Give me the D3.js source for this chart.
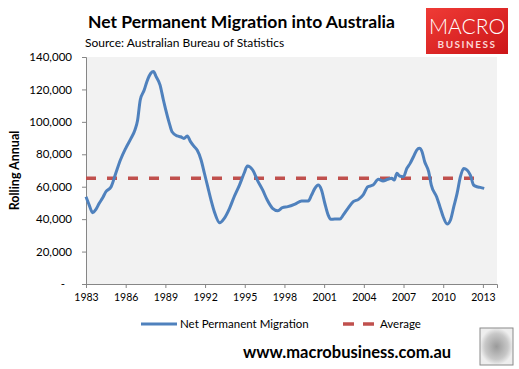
<!DOCTYPE html>
<html>
<head>
<meta charset="utf-8">
<script src="https://cdn.jsdelivr.net/npm/d3@7"></script>
<style>
  html, body { margin: 0; padding: 0; background: #fff; }
  svg { display: block; font-family: Lato, "Open Sans", sans-serif; }
</style>
</head>
<body>
<div id="chart"></div>
<script>
// Net permanent migration, rolling annual
var years = [
    1983.0, 1983.25, 1983.5, 1983.75, 1984.0, 1984.25, 1984.5, 1984.9, 1985.25, 1985.6,
    1986.0, 1986.4, 1986.7, 1986.9, 1987.1, 1987.4, 1987.6, 1987.9, 1988.1, 1988.3,
    1988.6, 1988.85, 1989.0, 1989.3, 1989.5, 1989.9, 1990.15, 1990.4, 1990.65, 1990.9,
    1991.15, 1991.4, 1991.7, 1991.95, 1992.2, 1992.45, 1992.7, 1993.1, 1993.45, 1993.85,
    1994.2, 1994.6, 1994.95, 1995.2, 1995.6, 1995.95, 1996.35, 1996.7, 1997.1, 1997.5,
    1997.85, 1998.25, 1998.8, 1999.3, 1999.8, 2000.05, 2000.3, 2000.55, 2000.8, 2001.05,
    2001.3, 2001.5, 2001.8, 2002.2, 2002.45, 2002.8, 2003.2, 2003.6, 2003.95, 2004.3,
    2004.7, 2005.1, 2005.45, 2005.8, 2006.1, 2006.3, 2006.5, 2006.7, 2007.0, 2007.25,
    2007.5, 2007.75, 2008.0, 2008.2, 2008.4, 2008.6, 2008.9, 2009.1, 2009.5, 2009.75,
    2010.0, 2010.3, 2010.55, 2010.8, 2011.05, 2011.3, 2011.55, 2011.8, 2012.05, 2012.3,
    2012.55, 2012.8, 2013.1
];
var migration = [
    53800, 48500, 44000, 46000, 49800, 53000, 56900, 60000, 68300, 76500,
    83700, 89800, 95000, 101000, 113500, 119600, 124800, 130000, 131000, 127900,
    122700, 113500, 108300, 99100, 93900, 91300, 90800, 89800, 91300, 87800,
    85000, 82600, 76500, 68300, 60000, 51800, 44600, 37800, 40500, 46700,
    53800, 61000, 68300, 72800, 70300, 64100, 58000, 51800, 46700, 45200,
    47100, 47700, 49300, 51200, 51200, 54900, 59000, 61000, 58000, 49800,
    42600, 39900, 40100, 40100, 42600, 46700, 50800, 52200, 54900, 60000,
    61000, 64600, 63500, 64600, 65200, 64100, 68300, 66600, 66200, 71300,
    74400, 78500, 82600, 83700, 81600, 75400, 69300, 61000, 53800, 47700,
    41500, 37000, 39500, 47700, 55900, 66200, 71300, 70300, 67200, 61000,
    60000, 59600, 59000
];
var average = 65200;
var yTicks = [0, 20000, 40000, 60000, 80000, 100000, 120000, 140000];
var xTicks = [1983, 1986, 1989, 1992, 1995, 1998, 2001, 2004, 2007, 2010, 2013];

var width = 519, height = 369;
var plot = { left: 86, right: 497, top: 57, bottom: 284 };

var svg = d3.select('#chart').append('svg')
    .attr('width', width)
    .attr('height', height);

var x = d3.scaleLinear()
    .domain([1983, 1983 + (plot.right - plot.left) / 13.23])
    .range([plot.left, plot.right]);
var y = d3.scaleLinear()
    .domain([0, 140000])
    .range([plot.bottom, plot.top]);

// Plot background
svg.append('rect')
    .attr('x', plot.left).attr('y', plot.top)
    .attr('width', plot.right - plot.left)
    .attr('height', plot.bottom - plot.top)
    .attr('fill', '#f2f2f2');

// Y axis
var yAxis = svg.append('g')
    .attr('transform', 'translate(' + plot.left + ',0)')
    .call(d3.axisLeft(y).tickValues(yTicks).tickSize(4).tickPadding(10)
        .tickFormat(function (d) { return d === 0 ? '-' : d3.format(',')(d); }));
yAxis.selectAll('text')
    .attr('fill', '#000').attr('font-size', '11.5px')
    .attr('font-family', 'Lato, sans-serif');
yAxis.selectAll('.tick').filter(function (d) { return d === 0; })
    .select('text').attr('x', -21);

// X axis
var xAxis = svg.append('g')
    .attr('transform', 'translate(0,' + plot.bottom + ')')
    .call(d3.axisBottom(x).tickValues(xTicks).tickSize(4).tickPadding(6)
        .tickFormat(d3.format('d')));
xAxis.selectAll('text')
    .attr('fill', '#000').attr('font-size', '10.5px')
    .attr('font-family', 'Lato, sans-serif');

svg.selectAll('.domain, .tick line').attr('stroke', '#868686');

// Average line
svg.append('line')
    .attr('x1', x(years[0])).attr('x2', x(years[years.length - 1]))
    .attr('y1', y(average)).attr('y2', y(average))
    .attr('stroke', '#c0504d')
    .attr('stroke-width', 3.5)
    .attr('stroke-dasharray', '10,11');

// Migration line
var line = d3.line()
    .x(function (d, i) { return x(years[i]); })
    .y(function (d) { return y(d); })
    .curve(d3.curveMonotoneX);
svg.append('path')
    .datum(migration)
    .attr('d', line)
    .attr('fill', 'none')
    .attr('stroke', '#4f81bd')
    .attr('stroke-width', 3)
    .attr('stroke-linejoin', 'round');

// Titles
svg.append('text')
    .attr('x', 88).attr('y', 28)
    .attr('font-size', '17.5px').attr('font-weight', 'bold')
    .text('Net Permanent Migration into Australia');
svg.append('text')
    .attr('x', 85).attr('y', 47)
    .attr('font-size', '12px')
    .text('Source: Australian Bureau of Statistics');
svg.append('text')
    .attr('transform', 'translate(19,' + ((plot.top + plot.bottom) / 2) + ') rotate(-90)')
    .attr('text-anchor', 'middle')
    .attr('font-size', '12.5px').attr('font-weight', 'bold')
    .text('Rolling Annual');

// MacroBusiness logo
var grad = svg.append('defs').append('linearGradient')
    .attr('id', 'logoGrad').attr('x1', 0).attr('y1', 0).attr('x2', 1).attr('y2', 1);
grad.append('stop').attr('offset', '0%').attr('stop-color', '#ef3b36');
grad.append('stop').attr('offset', '100%').attr('stop-color', '#cc1518');
svg.append('rect')
    .attr('x', 426).attr('y', 8).attr('width', 82).attr('height', 46)
    .attr('fill', 'url(#logoGrad)');
svg.append('text')
    .attr('x', 467).attr('y', 34).attr('text-anchor', 'middle')
    .attr('fill', '#fff').attr('font-size', '21px').attr('font-weight', '300')
    .attr('font-family', 'Lato, sans-serif')
    .text('MACRO');
svg.append('text')
    .attr('x', 467).attr('y', 48).attr('text-anchor', 'middle')
    .attr('fill', '#fbd6d6').attr('font-size', '10px').attr('font-weight', 'bold')
    .attr('letter-spacing', '1.5px')
    .text('BUSINESS');

// Legend
var legY = 324;
svg.append('line')
    .attr('x1', 141).attr('x2', 177).attr('y1', legY).attr('y2', legY)
    .attr('stroke', '#4f81bd').attr('stroke-width', 3);
svg.append('text')
    .attr('x', 180).attr('y', legY + 4)
    .attr('font-size', '11.5px')
    .text('Net Permanent Migration');
svg.append('line')
    .attr('x1', 343).attr('x2', 374).attr('y1', legY).attr('y2', legY)
    .attr('stroke', '#c0504d').attr('stroke-width', 3.5)
    .attr('stroke-dasharray', '11,9');
svg.append('text')
    .attr('x', 380).attr('y', legY + 4)
    .attr('font-size', '11.5px')
    .text('Average');

// Footer
svg.append('text')
    .attr('x', 243).attr('y', 358)
    .attr('font-size', '16.5px').attr('font-weight', 'bold')
    .text('www.macrobusiness.com.au');

// Wolf badge placeholder
var wolf = svg.append('defs').append('radialGradient').attr('id', 'wolfGrad');
wolf.append('stop').attr('offset', '0%').attr('stop-color', '#9a9a9a');
wolf.append('stop').attr('offset', '70%').attr('stop-color', '#c8c8c8');
wolf.append('stop').attr('offset', '100%').attr('stop-color', '#eeeeee');
svg.append('rect')
    .attr('x', 480).attr('y', 328).attr('width', 33).attr('height', 37)
    .attr('fill', 'url(#wolfGrad)').attr('stroke', '#8a8a8a').attr('stroke-width', 1);
</script>
</body>
</html>
